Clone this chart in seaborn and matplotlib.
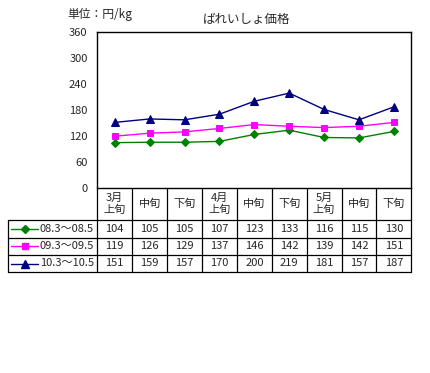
import matplotlib
matplotlib.use("Agg")
import matplotlib.pyplot as plt
import seaborn as sns
import pandas as pd
from matplotlib.lines import Line2D

sns.set_theme(style="white")
plt.rcParams['font.family'] = ['Noto Sans CJK JP', 'DejaVu Sans']

# ---- data ----
months = ["3月\n上旬", "中旬", "下旬", "4月\n上旬", "中旬", "下旬", "5月\n上旬", "中旬", "下旬"]
series_names = ["08.3～08.5", "09.3～09.5", "10.3～10.5"]
s2008 = [104, 105, 105, 107, 123, 133, 116, 115, 130]
s2009 = [119, 126, 129, 137, 146, 142, 139, 142, 151]
s2010 = [151, 159, 157, 170, 200, 219, 181, 157, 187]
y_ticks = [0, 60, 120, 180, 240, 300, 360]
title = "ばれいしょ価格"
unit_label = "単位：円/kg"

series_values = [s2008, s2009, s2010]
colors = ["#008000", "#FF00FF", "#000080"]
markers = ["D", "s", "^"]
msizes = [4.2, 4.8, 5.6]

W, H = 430, 373
fig = plt.figure(figsize=(W / 100, H / 100), dpi=100)
fig.patch.set_facecolor("white")

def fx(x):
    return x / W

def fy(y):
    return 1 - y / H

L, R, T, B = 97.3, 411.3, 32.3, 187.5
ax = fig.add_axes([fx(L), fy(B), fx(R) - fx(L), fy(T) - fy(B)])
ax.set_facecolor("white")

for name, vals, c, m, ms in zip(series_names, series_values, colors, markers, msizes):
    df = pd.DataFrame({"x": list(range(len(months))), "y": vals})
    sns.lineplot(data=df, x="x", y="y", ax=ax, color=c, marker=m, markersize=ms,
                 markeredgecolor=c, linewidth=1.0, legend=False)

ax.set_xlim(-0.5, len(months) - 0.5)
ax.set_ylim(0, 360)
ax.set_yticks(y_ticks)
ax.set_yticklabels([str(v) for v in y_ticks], fontsize=8)
ax.set_xticks([])
ax.set_xlabel("")
ax.set_ylabel("")
ax.tick_params(axis="y", length=0, pad=7)
for sp in ax.spines.values():
    sp.set_color("black")
    sp.set_linewidth(1.0)
    sp.set_visible(True)

fig.text(fx(247), fy(19), title, ha="center", va="center", fontsize=9)
fig.text(fx(67), fy(14), unit_label, ha="left", va="center", fontsize=8.5)

# ---- data table ----
n = len(months)
colw = (R - L) / n
header_bottom = 220.5
row_h = 17.2
table_left = 8.3
table_bottom = header_bottom + row_h * 3
lw = 0.9

def hline(x0, x1, y):
    fig.add_artist(Line2D([fx(x0), fx(x1)], [fy(y), fy(y)], color="black", lw=lw))

def vline(x, y0, y1):
    fig.add_artist(Line2D([fx(x), fx(x)], [fy(y0), fy(y1)], color="black", lw=lw))

for i in range(n + 1):
    vline(L + i * colw, B, table_bottom)
vline(table_left, header_bottom, table_bottom)
hline(table_left, R, header_bottom)
for r in range(1, 4):
    hline(table_left, R, header_bottom + r * row_h)

for i, lab in enumerate(months):
    cx = L + (i + 0.5) * colw
    fig.text(fx(cx), fy((B + header_bottom) / 2), lab, ha="center", va="center",
             fontsize=8, linespacing=1.15)

for r, (name, vals, c, m, ms) in enumerate(zip(series_names, series_values, colors, markers, msizes)):
    cy = header_bottom + (r + 0.5) * row_h
    fig.add_artist(Line2D([fx(11), fx(38)], [fy(cy), fy(cy)], color=c, lw=1.0))
    fig.add_artist(Line2D([fx(24.5)], [fy(cy)], color=c, marker=m, markersize=ms,
                          markeredgecolor=c, lw=0))
    fig.text(fx(40), fy(cy), name, ha="left", va="center", fontsize=8)
    for i, v in enumerate(vals):
        cx = L + (i + 0.5) * colw
        fig.text(fx(cx), fy(cy), str(v), ha="center", va="center", fontsize=8)

fig.savefig("out.png", dpi=100, facecolor="white")
